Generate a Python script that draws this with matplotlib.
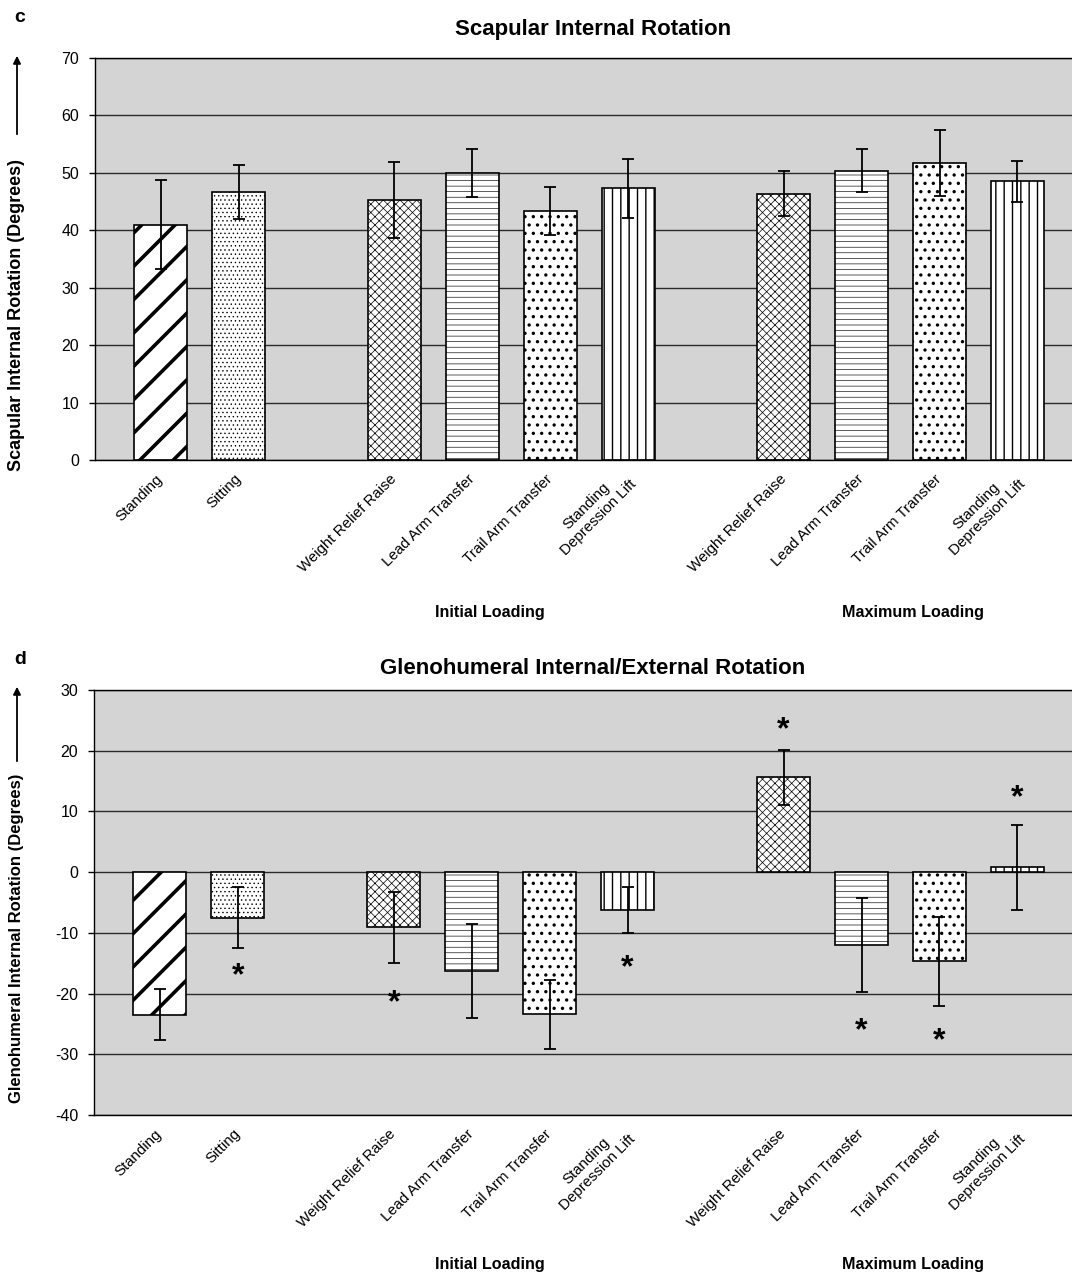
import numpy as np
import matplotlib.pyplot as plt

plt.rcParams['font.family'] = ['Liberation Sans', 'DejaVu Sans']
plt.rcParams['axes.unicode_minus'] = False

# categories along the x axis (gaps at 2 and 7 separate the groups)
categories = ['Standing', 'Sitting',
              'Weight Relief Raise', 'Lead Arm Transfer', 'Trail Arm Transfer', 'Standing\nDepression Lift',
              'Weight Relief Raise', 'Lead Arm Transfer', 'Trail Arm Transfer', 'Standing\nDepression Lift']
positions = [0, 1, 3, 4, 5, 6, 8, 9, 10, 11]

# panel c: scapular internal rotation (mean, sd)
scap_mean = [41.0, 46.7, 45.3, 50.0, 43.3, 47.3, 46.4, 50.4, 51.7, 48.5]
scap_sd = [7.8, 4.7, 6.6, 4.2, 4.2, 5.2, 3.9, 3.8, 5.7, 3.6]

# panel d: glenohumeral internal/external rotation (mean, sd, star position)
gh_mean = [-23.5, -7.5, -9.1, -16.3, -23.4, -6.3, 15.6, -12.0, -14.7, 0.8]
gh_sd = [4.2, 5.0, 5.8, 7.7, 5.7, 3.8, 4.6, 7.7, 7.3, 7.0]
gh_star = [None, -17.2, -21.6, None, None, -15.9, 23.3, -26.2, -27.9, 12.1]

hatches = ['/', '....', 'xxxx', '---', '..', '||', 'xxxx', '---', '..', '||']
hatch_lw = [2.6, 0.5, 0.5, 0.45, 1.2, 1.0, 0.5, 0.45, 1.2, 1.0]

W, H = 1072, 1283
fig = plt.figure(figsize=(W / 100, H / 100), dpi=100)


def fx(px):
    return px / W


def fy(py):
    return 1 - py / H


def draw_panel(ax, means, sds, ylim, yticks):
    ax.set_facecolor('#d4d4d4')
    for i in range(len(positions)):
        plt.rcParams['hatch.linewidth'] = hatch_lw[i]
        b = ax.bar(positions[i], means[i], width=0.68, color='white',
                   edgecolor='black', linewidth=1.2, hatch=hatches[i], zorder=2)
        for p in b:
            if hasattr(p, 'set_hatch_linewidth'):
                p.set_hatch_linewidth(hatch_lw[i])
    ax.errorbar(positions, means, yerr=sds, fmt='none', ecolor='black',
                elinewidth=1.3, capsize=4, capthick=1.3, zorder=3)
    ax.set_ylim(*ylim)
    ax.set_yticks(yticks)
    ax.set_xlim(-0.845, 11.7)
    ax.set_axisbelow(True)
    ax.yaxis.grid(True, color='#2a2a2a', linewidth=1.0)
    ax.spines['right'].set_visible(False)
    for s in ['left', 'top', 'bottom']:
        ax.spines[s].set_color('black')
        ax.spines[s].set_linewidth(1.0)
    ax.tick_params(axis='y', labelsize=11.5, length=4.5, width=1, direction='out', pad=7)
    ax.tick_params(axis='x', length=0, pad=12)
    ax.set_xticks(positions)
    ax.set_xticklabels(categories, rotation=45, ha='right', va='center',
                       rotation_mode='anchor', fontsize=10.8, multialignment='center')


# panel c
ax1 = fig.add_axes([fx(95), fy(460), fx(1072) - fx(95), fy(58) - fy(460)])
draw_panel(ax1, scap_mean, scap_sd, (0, 70), range(0, 71, 10))

# panel d
ax2 = fig.add_axes([fx(94), fy(1115), fx(1072) - fx(94), fy(690) - fy(1115)])
draw_panel(ax2, gh_mean, gh_sd, (-40, 30), range(-40, 31, 10))
for x, s in zip(positions, gh_star):
    if s is not None:
        ax2.text(x, s, '*', ha='center', va='center', fontsize=23, fontweight='bold', zorder=4)

# titles, panel letters, axis labels
fig.text(fx(14), fy(17), 'c', fontsize=14, fontweight='bold', va='center', ha='left')
fig.text(fx(593), fy(29), 'Scapular Internal Rotation', fontsize=16, fontweight='bold', ha='center', va='center')
fig.text(fx(14), fy(659), 'd', fontsize=14, fontweight='bold', va='center', ha='left')
fig.text(fx(593), fy(669), 'Glenohumeral Internal/External Rotation', fontsize=16, fontweight='bold', ha='center', va='center')

fig.text(fx(17), fy(315), 'Scapular Internal Rotation (Degrees)', rotation=90, fontsize=13,
         fontweight='bold', ha='center', va='center')
fig.text(fx(17), fy(938), 'Glenohumeral Internal Rotation (Degrees)', rotation=90, fontsize=12,
         fontweight='bold', ha='center', va='center')

for y0, y1 in [(137, 53), (764, 684)]:
    fig.add_artist(plt.Annotation('', xy=(fx(17), fy(y1)), xytext=(fx(17), fy(y0)),
                                  xycoords='figure fraction', textcoords='figure fraction',
                                  arrowprops=dict(arrowstyle='-|>', color='black', lw=1.3,
                                                  mutation_scale=11)))

for y in [612, 1265]:
    fig.text(fx(490), fy(y), 'Initial Loading', fontsize=11.6, fontweight='bold', ha='center', va='center')
    fig.text(fx(913), fy(y), 'Maximum Loading', fontsize=11.6, fontweight='bold', ha='center', va='center')

fig.savefig('out.png', dpi=100)
